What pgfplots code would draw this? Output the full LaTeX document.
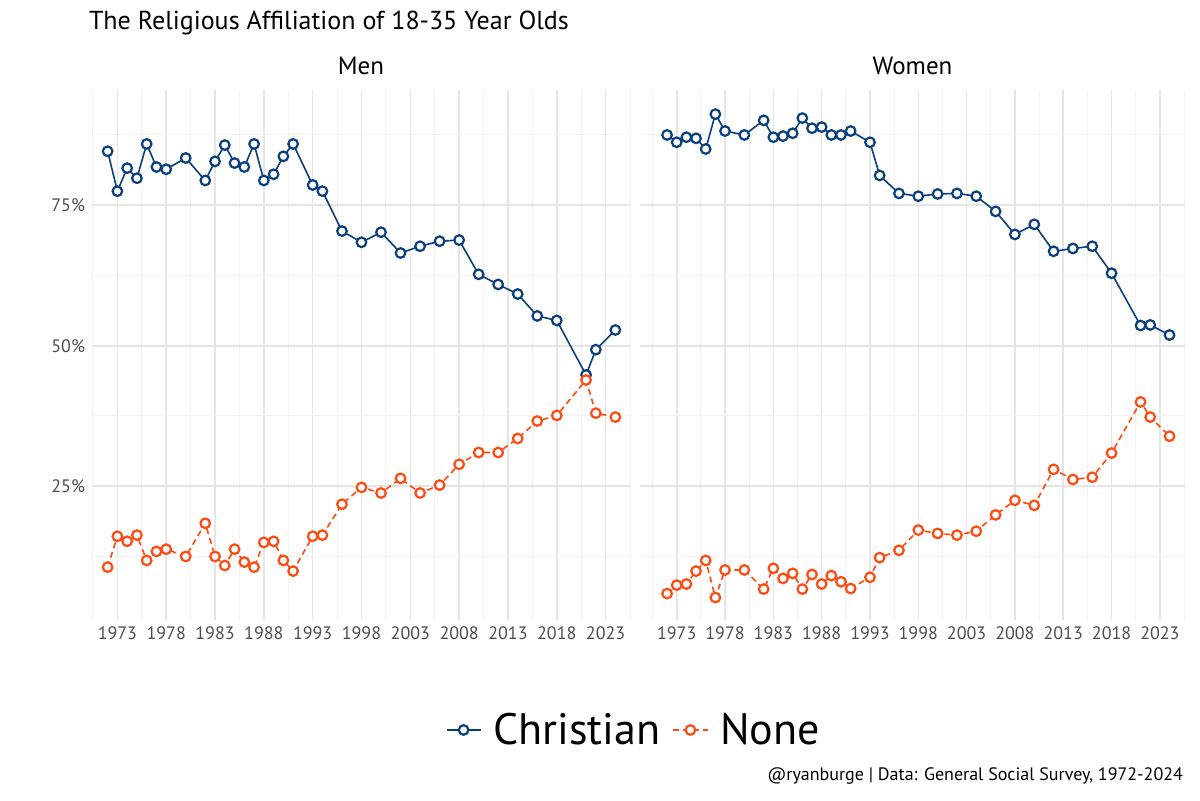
\documentclass[border=0pt]{standalone}
\usepackage{pgfplots}
\pgfplotsset{compat=1.18}
\usepackage{fontspec}
\setmainfont{PT Sans}
\definecolor{chr}{HTML}{0A3F7E}
\definecolor{non}{HTML}{FF4A12}
\pgfplotstableread{
year menc menn womc womn
1972 84.6 10.6 87.5 5.9
1973 77.5 16.1 86.2 7.4
1974 81.6 15.2 87.1 7.6
1975 79.8 16.3 86.9 9.9
1976 85.9 11.8 85.0 11.8
1977 81.8 13.4 91.2 5.2
1978 81.4 13.8 88.2 10.1
1980 83.4 12.5 87.5 10.1
1982 79.4 18.4 90.1 6.7
1983 82.8 12.5 87.1 10.4
1984 85.7 10.9 87.3 8.6
1985 82.5 13.8 87.8 9.5
1986 81.8 11.5 90.5 6.7
1987 85.9 10.6 88.7 9.3
1988 79.4 15.0 88.9 7.6
1989 80.5 15.2 87.5 9.1
1990 83.7 11.8 87.5 8.0
1991 85.9 9.9 88.2 6.8
1993 78.6 16.1 86.2 8.8
1994 77.5 16.3 80.3 12.3
1996 70.4 21.8 77.1 13.6
1998 68.4 24.8 76.6 17.2
2000 70.2 23.8 77.0 16.6
2002 66.5 26.4 77.1 16.3
2004 67.7 23.8 76.6 17.0
2006 68.6 25.2 73.9 19.9
2008 68.8 28.9 69.8 22.5
2010 62.7 31.0 71.6 21.6
2012 60.9 31.0 66.8 28.0
2014 59.2 33.5 67.3 26.2
2016 55.3 36.6 67.7 26.6
2018 54.5 37.6 62.9 30.9
2021 44.8 43.9 53.6 40.0
2022 49.3 38.0 53.7 37.3
2024 52.8 37.3 51.9 33.9
}\data
\pgfplotsset{
 panel/.style={
  scale only axis, height=265pt,
  axis line style={draw=none}, tick style={draw=none},
  ymin=1.2, ymax=95.5,
  xtick={1973,1978,...,2023}, minor xtick={1970.5,1975.5,...,2025.5},
  ytick={25,50,75}, minor ytick={12.5,37.5,62.5,87.5},
  yticklabel={\pgfmathprintnumber{\tick}\%},
  grid=both,
  major grid style={draw=black!10, line width=0.8pt},
  minor grid style={draw=black!5, line width=0.5pt},
  tick label style={font=\fontsize{9}{10}\selectfont, text=black!70},
  xticklabel style={/pgf/number format/1000 sep={}},
  /pgf/number format/assume math mode=true,
  title style={font=\fontsize{12.5}{14}\selectfont, yshift=-2pt},
  clip=false,
 },
 cser/.style={chr, line width=0.8pt, mark=*, mark size=2.4pt, mark options={fill=white, draw=chr, line width=1.1pt, solid}},
 nser/.style={non, line width=0.8pt, densely dashed, mark=*, mark size=2.4pt, mark options={fill=white, draw=non, line width=1.1pt, solid}},
}
\begin{document}
\begin{tikzpicture}
\path (0,0) rectangle (600pt,400pt);
\node[anchor=base west, font=\fontsize{13}{15}\selectfont] at (41pt,385pt) {The Religious Affiliation of 18-35 Year Olds};
\node[anchor=base east, font=\fontsize{9}{11}\selectfont] at (595pt,10pt) {@ryanburge | Data: General Social Survey, 1972-2024};
\begin{axis}[panel, at={(46pt,90pt)}, anchor=south west, width=269pt,
  xmin=1970.4, xmax=2025.5, title={Men},
  legend columns=2,
  legend style={at={(1.009,-0.2075)}, anchor=center, draw=none, fill=none,
   font=\fontsize{22}{24}\selectfont, column sep=4pt}]
\addplot[cser] table[x=year,y=menc]{\data};
\addlegendentry{Christian}
\addplot[nser] table[x=year,y=menn]{\data};
\addlegendentry{None}
\end{axis}
\begin{axis}[panel, at={(320pt,90pt)}, anchor=south west, width=272.5pt,
  xmin=1969.2, xmax=2025.6, title={Women}, yticklabels={}]
\addplot[cser] table[x=year,y=womc]{\data};
\addplot[nser] table[x=year,y=womn]{\data};
\end{axis}
\end{tikzpicture}
\end{document}
